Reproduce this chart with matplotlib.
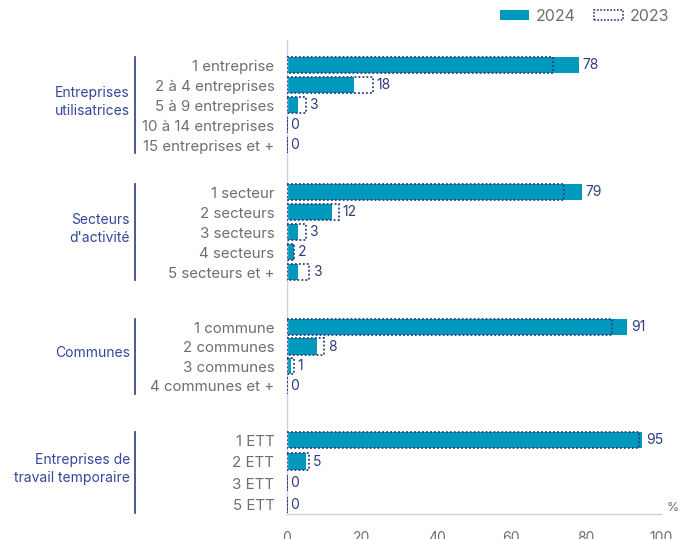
import matplotlib.pyplot as plt
import matplotlib.transforms as mtransforms
from matplotlib.patches import Patch
import numpy as np

plt.rcParams['font.family'] = ['Inter', 'DejaVu Sans']

groups = ['Entreprises\nutilisatrices', "Secteurs\nd'activité", 'Communes',
          'Entreprises de\ntravail temporaire']
cats = [
    ['1 entreprise', '2 à 4 entreprises', '5 à 9 entreprises', '10 à 14 entreprises', '15 entreprises et +'],
    ['1 secteur', '2 secteurs', '3 secteurs', '4 secteurs', '5 secteurs et +'],
    ['1 commune', '2 communes', '3 communes', '4 communes et +'],
    ['1 ETT', '2 ETT', '3 ETT', '5 ETT'],
]
v2024 = [
    [78, 18, 3, 0, 0],
    [79, 12, 3, 2, 3],
    [91, 8, 1, 0],
    [95, 5, 0, 0],
]
v2023 = [
    [71, 23, 5, 0, 0],
    [74, 14, 5, 2, 6],
    [87, 10, 2, 0],
    [94, 6, 0, 0],
]

TEAL = '#0099BE'
NAVY = '#2E3C7E'
GREY = '#6E6E6E'
AXIS = '#C9D6DF'

fig = plt.figure(figsize=(6.8, 5.39), dpi=100)
ax = fig.add_axes([287 / 680, 1 - 514 / 539, 374 / 680, (514 - 40) / 539])

# row layout (pixel-like units, top to bottom): first row of each group, row step
starts = [65, 192, 327, 440]
steps = [20, 20, 19.5, 21.6]
ys = [[s + i * st for i in range(len(g))] for s, st, g in zip(starts, steps, cats)]

h = 16.5
labels = []
ticks = []
blend = mtransforms.blended_transform_factory(fig.transFigure, ax.transData)
for gi, g in enumerate(cats):
    yy = np.array(ys[gi])
    a = np.array(v2024[gi])
    b = np.array(v2023[gi])
    ax.barh(yy, a, height=h, color=TEAL, zorder=2)
    ax.barh(yy, b, height=h, facecolor='none', edgecolor=NAVY, linestyle=(0, (1, 1.2)),
            linewidth=1.3, zorder=3)
    for yv, va, vb in zip(yy, a, b):
        x = max(va, vb)
        ax.text(x + 0.9, yv, str(va), va='center', ha='left', color=NAVY, fontsize=10)
    ticks += list(yy)
    labels += g
    # group bracket and label
    ax.plot([135 / 680, 135 / 680], [yy[0] - h / 2, yy[-1] + h / 2], transform=blend,
            color=NAVY, linewidth=1.2, clip_on=False)
    ax.text(130 / 680, yy.mean() - 3, groups[gi], transform=blend, ha='right', va='center',
            color='#34479A', fontsize=10, linespacing=1.35)

ax.set_yticks(ticks)
ax.set_yticklabels(labels, color=GREY, fontsize=10.8)
ax.set_ylim(514, 40)
ax.set_xlim(0, 100)
ax.set_xticks(np.arange(0, 101, 20))
ax.tick_params(axis='y', length=0, pad=9)
ax.tick_params(axis='x', length=0, pad=12, colors=GREY, labelsize=10)
for s in ['top', 'right']:
    ax.spines[s].set_visible(False)
for s in ['left', 'bottom']:
    ax.spines[s].set_color(AXIS)
    ax.spines[s].set_linewidth(1)
ax.text(101.5, 508, '%', color=GREY, fontsize=9, ha='left', va='center')

handles = [Patch(facecolor=TEAL, edgecolor='none', label='2024'),
           Patch(facecolor='none', edgecolor=NAVY, linestyle=(0, (1, 1)), linewidth=1.2, label='2023')]
fig.legend(handles=handles, loc='upper right', bbox_to_anchor=(1.005, 1.01), ncol=2, frameon=False,
           fontsize=11.5, labelcolor=GREY, handlelength=1.8, handleheight=0.6, handletextpad=0.4,
           columnspacing=1.2)

fig.savefig('out.png', dpi=100)
